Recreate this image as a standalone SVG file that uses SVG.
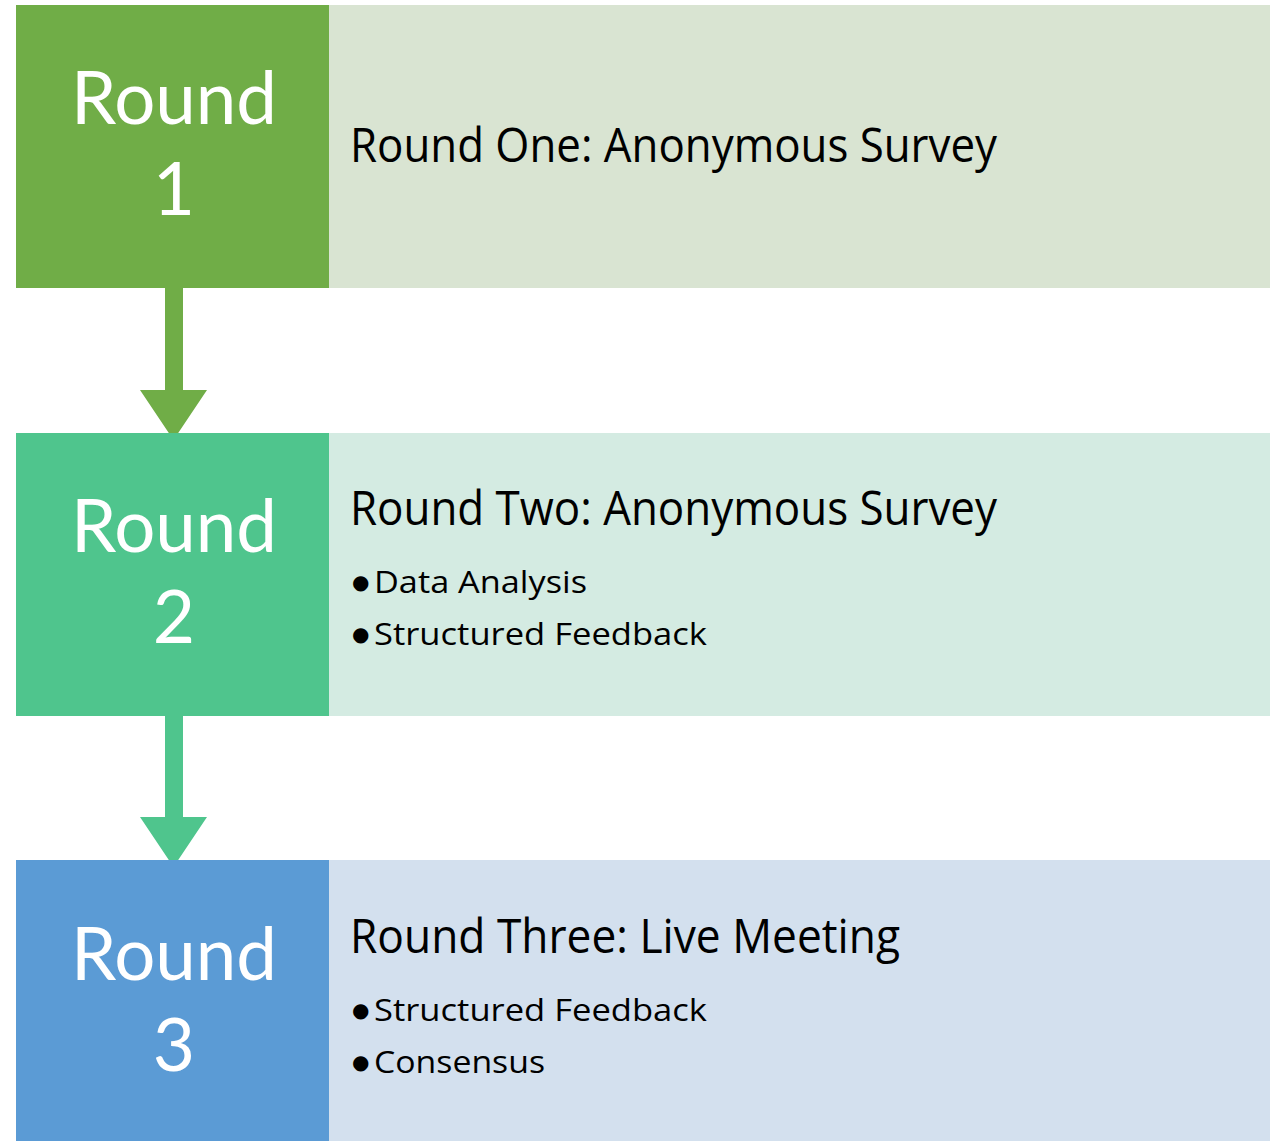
<svg xmlns="http://www.w3.org/2000/svg" width="1281" height="1141" viewBox="0 0 1281 1141">
<style>
.lbl{font-family:Lato,"Open Sans","Liberation Sans",sans-serif;fill:#fff;font-size:73px;text-anchor:middle}
.ttl{font-family:"Open Sans","Noto Sans","Liberation Sans",sans-serif;fill:#000;font-size:47px}
.bul{font-family:"Open Sans","Noto Sans","Liberation Sans",sans-serif;fill:#000;font-size:31px}
.dot{font-family:"DejaVu Sans",sans-serif;fill:#000;font-size:20px}
</style>
<rect width="1281" height="1141" fill="#fff"/>
<g id="connectors">
<path d="M165,288 H183 V390 H207 L173.5,440 L140,390 H165 Z" fill="#70AD47"/>
<path d="M165,716 H183 V817 H207 L173.5,867 L140,817 H165 Z" fill="#4FC58D"/>
</g>
<g id="round1">
<rect x="329" y="5" width="941" height="283" fill="#D9E4D2"/>
<rect x="16" y="5" width="313" height="283" fill="#70AD47"/>
<text class="lbl" x="174" y="124" textLength="206" lengthAdjust="spacingAndGlyphs">Round</text>
<text class="lbl" x="174" y="215">1</text>
<text class="ttl" x="350" y="162" textLength="647" lengthAdjust="spacingAndGlyphs">Round One: Anonymous Survey</text>
</g>
<g id="round2">
<rect x="329" y="433" width="941" height="283" fill="#D4EBE2"/>
<rect x="16" y="433" width="313" height="283" fill="#4FC58D"/>
<text class="lbl" x="174" y="552" textLength="206" lengthAdjust="spacingAndGlyphs">Round</text>
<text class="lbl" x="174" y="643">2</text>
<text class="ttl" x="350" y="525" textLength="647" lengthAdjust="spacingAndGlyphs">Round Two: Anonymous Survey</text>
<text class="dot" x="352" y="589">●</text>
<text class="bul" x="374" y="593" textLength="213" lengthAdjust="spacingAndGlyphs">Data Analysis</text>
<text class="dot" x="352" y="641">●</text>
<text class="bul" x="374" y="645" textLength="333" lengthAdjust="spacingAndGlyphs">Structured Feedback</text>
</g>
<g id="round3">
<rect x="329" y="860" width="941" height="283" fill="#D3E0EE"/>
<rect x="16" y="860" width="313" height="283" fill="#5B9BD5"/>
<text class="lbl" x="174" y="980" textLength="206" lengthAdjust="spacingAndGlyphs">Round</text>
<text class="lbl" x="174" y="1071">3</text>
<text class="ttl" x="350" y="953" textLength="550" lengthAdjust="spacingAndGlyphs">Round Three: Live Meeting</text>
<text class="dot" x="352" y="1017">●</text>
<text class="bul" x="374" y="1021" textLength="333" lengthAdjust="spacingAndGlyphs">Structured Feedback</text>
<text class="dot" x="352" y="1069">●</text>
<text class="bul" x="374" y="1073" textLength="171" lengthAdjust="spacingAndGlyphs">Consensus</text>
</g>
</svg>
